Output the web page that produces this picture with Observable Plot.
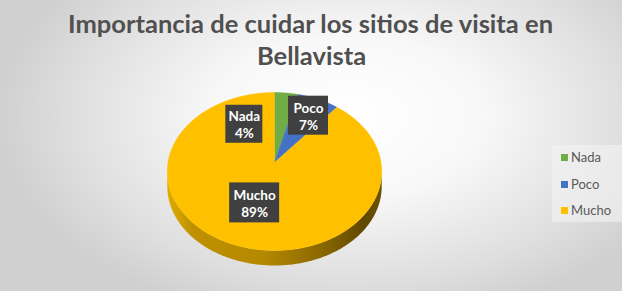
<!DOCTYPE html>
<html>
<head>
<meta charset="utf-8">
<script src="https://cdn.jsdelivr.net/npm/d3@7"></script>
<script src="https://cdn.jsdelivr.net/npm/@observablehq/plot@0.6"></script>
<style>
  html, body { margin: 0; padding: 0; background: #fff; }
  #chart {
    position: relative; width: 622px; height: 291px; overflow: hidden;
    background: radial-gradient(ellipse 56% 72% at 56% 40%, #ffffff 0%, #f8f8f8 38%, #dedede 80%, #d0d0d0 100%);
    font-family: Lato, "Open Sans", sans-serif;
  }
  #title {
    position: absolute; left: 0; top: 7px; width: 622px; text-align: center;
    font-weight: 700; color: #505050; font-size: 25px; line-height: 32px;
  }
  #title span { display: inline-block; white-space: nowrap; transform-origin: 50% 50%; }
  #plot { position: absolute; left: 0; top: 0; }
  #legend {
    position: absolute; left: 552px; top: 145px; width: 71px; height: 77px;
    background: rgba(244,244,244,0.6);
  }
  .item { position: absolute; left: 9px; height: 14px; font-size: 13px; color: #595959; line-height: 14px; }
  .sw { display: inline-block; width: 7px; height: 7px; margin-right: 3px; vertical-align: 1px; }
</style>
</head>
<body>
<div id="chart">
  <div id="plot"></div>
  <div id="title"><span id="t1"></span><br><span id="t2"></span></div>
  <div id="legend"></div>
</div>
<script>
// ---- data ----
const titleLines = ["Importancia de cuidar los sitios de visita en", "Bellavista"];
const categories = ["Nada", "Poco", "Mucho"];
const percents = [4, 7, 89];
const colors = ["#70AD47", "#4472C4", "#FFC000"];

// ---- layout ----
const W = 622, H = 291;
const cx = 274, cy = 162, R = 106.5;     // pie centre / radius in px
const persp = 0.114, tilt = 0.732, depth = 15 / R;
const labelLayout = { Nada: [-30, 0.60], Poco: [28, 0.73], Mucho: [null, 0.52] }; // angle (deg) / radius fraction
const boxSize = { Nada: [37, 38], Poco: [40, 39], Mucho: [50, 40] };              // px

function proj(theta, f = 1) {
  const u = f * Math.sin(theta), w = f * Math.cos(theta);
  const s = 1 + persp * w;
  return { x: u / s, y: tilt * w / s };
}

const data = categories.map((c, i) => ({ cat: c, value: percents[i], color: colors[i] }));
const arcs = d3.pie().sort(null).value(d => d.value)(data);

const slices = arcs.map(a => {
  const pts = [{ x: 0, y: 0 }];
  const n = Math.max(4, Math.ceil((a.endAngle - a.startAngle) / 0.01));
  for (let k = 0; k <= n; k++) pts.push(proj(a.startAngle + (a.endAngle - a.startAngle) * k / n));
  pts.push({ x: 0, y: 0 });
  return { pts, color: a.data.color };
});

// side wall (front visible part)
const t0 = Math.acos(-persp), t1 = 2 * Math.PI - t0;
const sideTop = [], sideBot = [];
for (let k = 0; k <= 200; k++) {
  const p = proj(t0 + (t1 - t0) * k / 200);
  sideTop.push(p); sideBot.push({ x: p.x, y: p.y - depth });
}
const sidePts = sideTop.concat(sideBot.reverse());

// soft shadow
const shadowPts = [];
for (let k = 0; k <= 200; k++) {
  const p = proj(2 * Math.PI * k / 200);
  shadowPts.push({ x: p.x + 5 / R, y: p.y - depth - 4 / R });
}

const labels = arcs.map(a => {
  const [ang, f] = labelLayout[a.data.cat];
  const theta = ang === null ? (a.startAngle + a.endAngle) / 2 : ang * Math.PI / 180;
  const p = proj(theta, f);
  const [bw, bh] = boxSize[a.data.cat];
  return {
    x: p.x, y: p.y,
    x1: p.x - bw / 2 / R, x2: p.x + bw / 2 / R,
    y1: p.y - bh / 2 / R, y2: p.y + bh / 2 / R,
    text: `${a.data.cat}\n${a.data.value}%`
  };
});

const svg = Plot.plot({
  width: W, height: H,
  marginTop: 0, marginRight: 0, marginBottom: 0, marginLeft: 0,
  x: { domain: [-cx / R, (W - cx) / R], axis: null },
  y: { domain: [-(H - cy) / R, cy / R], axis: null },
  style: { background: "transparent", overflow: "visible" },
  marks: [
    Plot.line(shadowPts, { x: "x", y: "y", fill: "#000", fillOpacity: 0.2, stroke: "none", ariaLabel: "shadow" }),
    Plot.line(sidePts, { x: "x", y: "y", fill: "url(#sideGrad)", stroke: "none" }),
    ...slices.map(s => Plot.line(s.pts, { x: "x", y: "y", fill: s.color, stroke: s.color, strokeWidth: 0.5 })),
    Plot.rect(labels, { x1: "x1", x2: "x2", y1: "y1", y2: "y2", fill: "#404040", ariaLabel: "boxes" }),
    Plot.text(labels, { x: "x", y: "y", text: "text", fill: "white", fontWeight: "bold", fontSize: 13.5,
      lineHeight: 1.28, fontFamily: "Lato, 'Open Sans', sans-serif" })
  ]
});

d3.select(svg).insert("defs", ":first-child").html(`
  <linearGradient id="sideGrad" x1="0" x2="1" y1="0" y2="0">
    <stop offset="0" stop-color="#e0ad00"/>
    <stop offset="0.12" stop-color="#bf9000"/>
    <stop offset="0.45" stop-color="#b48800"/>
    <stop offset="0.72" stop-color="#8a6800"/>
    <stop offset="0.92" stop-color="#604700"/>
    <stop offset="1" stop-color="#6c5100"/>
  </linearGradient>
  <filter id="blur" x="-20%" y="-20%" width="140%" height="140%"><feGaussianBlur stdDeviation="5"/></filter>
  <filter id="boxShadow" x="-20%" y="-20%" width="140%" height="140%">
    <feDropShadow dx="1.5" dy="1.5" stdDeviation="1.5" flood-color="#000" flood-opacity="0.35"/>
  </filter>`);
d3.select(svg).select('g[aria-label="shadow"]').attr("filter", "url(#blur)");
d3.select(svg).select('g[aria-label="boxes"]').attr("filter", "url(#boxShadow)");
document.getElementById("plot").appendChild(svg);

// title
document.getElementById("t1").textContent = titleLines[0];
document.getElementById("t2").textContent = titleLines[1];
function fitTitle() {
  const s1 = document.getElementById("t1"), s2 = document.getElementById("t2");
  s1.style.transform = s2.style.transform = "none";
  const k = 485 / s1.getBoundingClientRect().width;
  s1.style.transform = s2.style.transform = `scaleX(${k})`;
}
fitTitle();
if (document.fonts) document.fonts.ready.then(fitTitle);

// legend
const leg = document.getElementById("legend");
categories.forEach((c, i) => {
  const el = document.createElement("div");
  el.className = "item";
  el.style.top = (5 + i * 26.5) + "px";
  el.innerHTML = `<span class="sw" style="background:${colors[i]}"></span>${c}`;
  leg.appendChild(el);
});
</script>
</body>
</html>
